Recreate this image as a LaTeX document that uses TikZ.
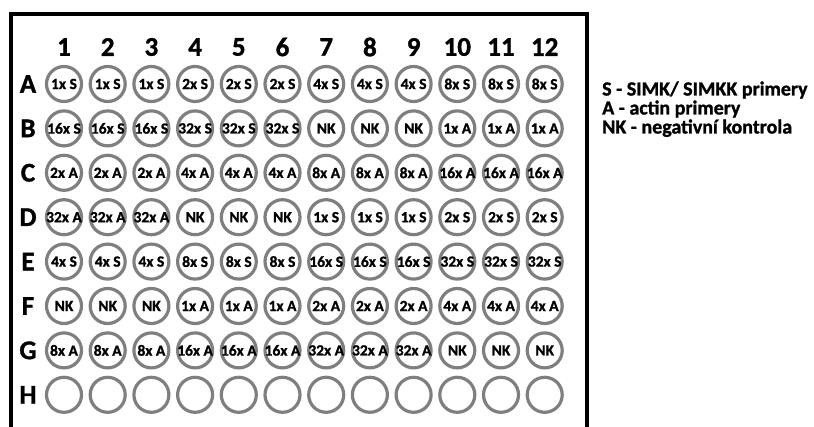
\documentclass[tikz,border=0pt]{standalone}
\usepackage{fontspec}
\setmainfont{Carlito}[BoldFeatures={FakeBold=1.2}]
\definecolor{wellgray}{HTML}{7F7F7F}
\begin{document}
\begin{tikzpicture}[x=1pt,y=-1pt,
  well/.style={circle,draw=wellgray,line width=3.2pt,minimum size=35pt,inner sep=0pt},
  welltext/.style={inner sep=0pt,font=\fontsize{15.5}{18}\selectfont\bfseries},
  collab/.style={inner sep=0pt,font=\fontsize{27}{30}\selectfont\bfseries},
  rowlab/.style={inner sep=0pt,font=\fontsize{27}{30}\selectfont\bfseries},
  legend/.style={inner sep=0pt,anchor=base west,font=\fontsize{20}{22}\selectfont\bfseries}]
\useasboundingbox (0,0) rectangle (814,427);
\draw[line width=4pt] (10.5,430) -- (10.5,14.5) -- (587,14.5) -- (587,430);
\foreach \c in {1,...,12}
  \node[collab] (col\c) at ({64+(\c-1)*43.7},47) {\c};
\foreach \r/\la/\lb/\lc/\ld [count=\ri from 0] in {
  A/1x S/2x S/4x S/8x S,
  B/16x S/32x S/NK/1x A,
  C/2x A/4x A/8x A/16x A,
  D/32x A/NK/1x S/2x S,
  E/4x S/8x S/16x S/32x S,
  F/NK/1x A/2x A/4x A,
  G/8x A/16x A/32x A/NK}{
  \node[rowlab] (row\r) at (28,{84+\ri*44.4}) {\r};
  \foreach \t [count=\g from 0] in {\la,\lb,\lc,\ld}{
    \foreach \k in {1,2,3}{
      \pgfmathtruncatemacro\c{\g*3+\k}
      \node[well] (\r\c) at ({64+(\c-1)*43.7},{84+\ri*44.4}) {};
      \node[welltext] (\r\c t) at (\r\c) {\t};
    }
  }
}
\node[rowlab] (rowH) at (28,{84+7*44.4}) {H};
\foreach \c in {1,...,12}
  \node[well] (H\c) at ({64+(\c-1)*43.7},{84+7*44.4}) {};
\node[legend] (leg1) at (602,95.5) {S - SIMK/ SIMKK primery};
\node[legend] (leg2) at (602,114.5) {A - actin primery};
\node[legend] (leg3) at (602,133.5) {NK - negativní kontrola};
\end{tikzpicture}
\end{document}
